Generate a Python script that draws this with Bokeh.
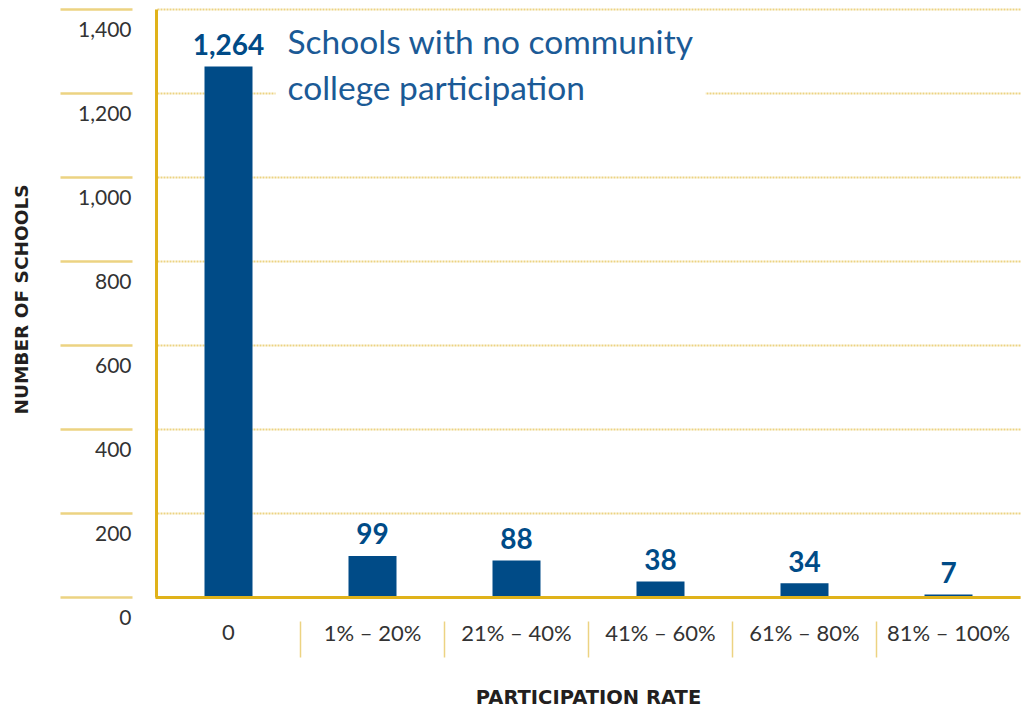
from bokeh.plotting import figure
from bokeh.models import Range1d, ColumnDataSource
from bokeh.core.properties import value
from bokeh.embed import file_html
from bokeh.resources import INLINE
import math

# ---------------- data ----------------
categories = ["0", "1% \u2013 20%", "21% \u2013 40%", "41% \u2013 60%", "61% \u2013 80%", "81% \u2013 100%"]
schools = [1264, 99, 88, 38, 34, 7]
value_labels = ["1,264", "99", "88", "38", "34", "7"]
y_ticks = [0, 200, 400, 600, 800, 1000, 1200, 1400]
y_tick_labels = ["0", "200", "400", "600", "800", "1,000", "1,200", "1,400"]
annotation = "Schools with no community\ncollege participation"
x_title = "PARTICIPATION RATE"
y_title = "NUMBER OF SCHOOLS"

# ---------------- layout (pixels) ----------------
W, H = 1024, 709
PAGE = 0
STEP = 144.0          # px between categories
X0_SCREEN = 228.0     # screen x of first category
BASE_SCREEN = 597.0   # screen y of value 0
PX = 0.42             # px per unit


def dx(px):
    return px / STEP


def dy(px):
    return px / PX


def sx(screen_x):
    return (screen_x - X0_SCREEN) / STEP


def sy(screen_y):
    return (BASE_SCREEN - screen_y) / PX


NAVY = "#004b87"
NAVY_TXT = "#1b5a96"
GOLD = "#e0b21a"
GOLD_LIGHT = "#ecd382"
GREY = "#333333"
DARK = "#231f20"

p = figure(width=W, height=H,
           x_range=Range1d(sx(PAGE), sx(PAGE + W)),
           y_range=Range1d(sy(PAGE + H), sy(PAGE)),
           x_axis_type=None, y_axis_type=None,
           toolbar_location=None, output_backend="svg",
           min_border=0, outline_line_color=None)
p.background_fill_color = "white"
p.border_fill_color = "white"

xs = list(range(len(categories)))

# dotted gridlines
p.segment(x0=[sx(157)] * len(y_ticks), x1=[sx(1020)] * len(y_ticks),
          y0=y_ticks, y1=y_ticks, line_color=GOLD_LIGHT, line_width=2,
          line_dash="2 1")
# solid short tick lines at the left
p.segment(x0=[sx(60)] * len(y_ticks), x1=[sx(132)] * len(y_ticks),
          y0=y_ticks, y1=y_ticks, line_color=GOLD_LIGHT, line_width=2.5)
# y tick labels (below each line)
p.text(x=[sx(131)] * len(y_ticks), y=[t - dy(20) for t in y_ticks], text=y_tick_labels,
       text_align="right", text_baseline="middle", text_font=value("Lato"),
       text_font_size="21px", text_color=GREY)

# bars
src = ColumnDataSource(dict(x=xs, top=schools, lab=value_labels, cat=categories,
                            laby=[v + dy(22) for v in schools],
                            caty=[sy(632)] * len(xs)))
p.vbar(x="x", top="top", bottom=0, width=dx(48), source=src,
       fill_color=NAVY, line_color=None)

# axis lines
p.segment(x0=[sx(156)], x1=[sx(156)], y0=[y_ticks[-1]], y1=[0],
          line_color=GOLD, line_width=3)
p.segment(x0=[sx(155)], x1=[sx(1020)], y0=[0], y1=[0],
          line_color=GOLD, line_width=3)

# value labels
p.text(x="x", y="laby", text="lab", source=src,
       text_align="center", text_baseline="alphabetic", text_font=value("Lato"),
       text_font_style="bold", text_font_size="28px", text_color=NAVY)

# category labels
p.text(x="x", y="caty", text="cat", source=src,
       text_align="center", text_baseline="middle", text_font=value("Lato"),
       text_font_size="22px", text_color=GREY)

# category separators
sep = [i + 0.5 for i in xs[:-1]]
p.segment(x0=sep, x1=sep, y0=[sy(621)] * len(sep), y1=[sy(657)] * len(sep),
          line_color=GOLD_LIGHT, line_width=1.5)

# annotation
p.text(x=[sx(275)], y=[sy(63)], text=[annotation], text_align="left",
       text_baseline="middle", text_font=value("Lato"), text_font_size="33.5px",
       text_color=NAVY_TXT, text_line_height=1.15,
       background_fill_color="white",
       padding=dict(left=12, right=12, top=2, bottom=2))

# axis titles
p.text(x=[(xs[0] + xs[-1]) / 2], y=[sy(697)], text=[x_title], text_align="center",
       text_baseline="middle", text_font=value("DejaVu Sans"), text_font_style="bold",
       text_font_size="19.5px", text_color=DARK)
p.text(x=[sx(21)], y=[sy(299)], text=[y_title], text_align="center",
       text_baseline="middle", text_font=value("DejaVu Sans"), text_font_style="bold",
       text_font_size="18.5px", text_color=DARK, angle=math.pi / 2)

open("out.html", "w").write(file_html(p, INLINE))
